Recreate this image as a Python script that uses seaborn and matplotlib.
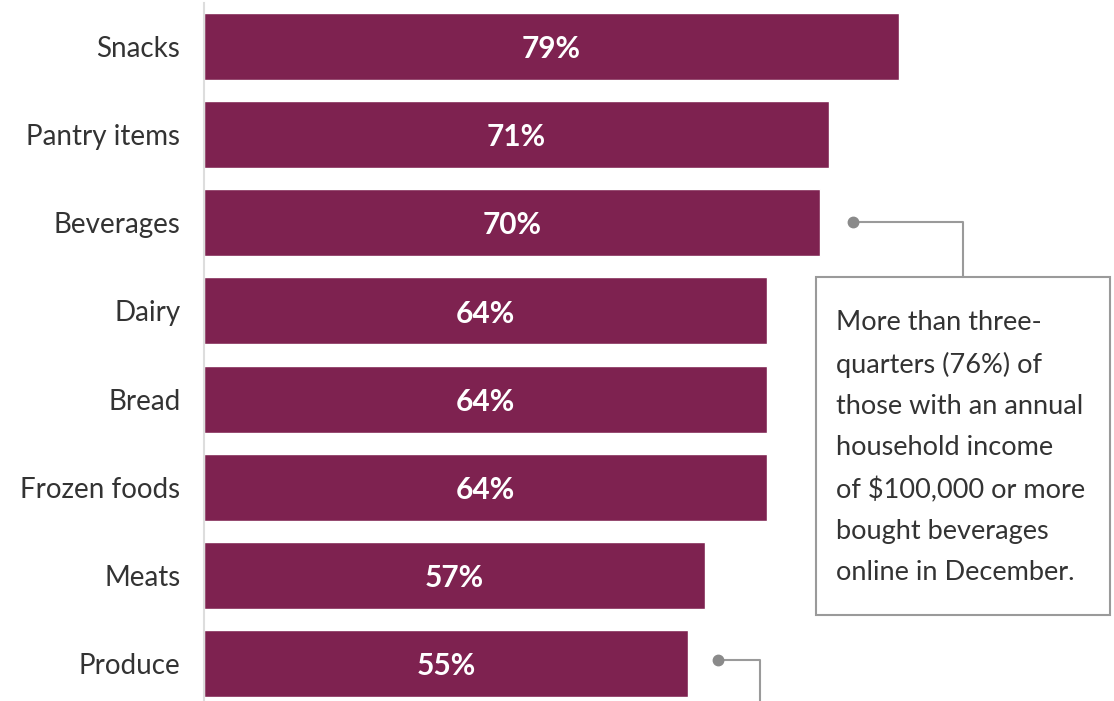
import matplotlib
matplotlib.use("Agg")
import matplotlib.pyplot as plt
import seaborn as sns
import pandas as pd

categories = ["Snacks", "Pantry items", "Beverages", "Dairy", "Bread",
              "Frozen foods", "Meats", "Produce"]
shares = [79, 71, 70, 64, 64, 64, 57, 55]
note_text = ("More than three-\nquarters (76%) of\nthose with an annual\n"
             "household income\nof $100,000 or more\nbought beverages\n"
             "online in December.")

BAR = "#7E2250"
GREY_LINE = "#8a8a8a"
TEXT = "#333333"

sns.set_theme(style="white")
plt.rcParams["font.family"] = ["Lato", "DejaVu Sans"]

df = pd.DataFrame({"category": categories, "share": shares})

W, H = 1114, 701
fig = plt.figure(figsize=(W / 100, H / 100), dpi=100)
# axes spans from the value axis line to the right edge
ax = fig.add_axes([204 / W, 0, 1 - 204 / W, 1 - 3 / H])

sns.barplot(data=df, x="share", y="category", color=BAR, saturation=1,
            width=0.76, ax=ax, orient="h")

pitch = 88.14
ax.set_ylim(7 + (H - 663.5) / pitch, (3 - 46.5) / pitch)
ax.set_xlim(0, (W - 204) / 8.797)

for i, v in enumerate(shares):
    ax.text(v / 2, i + 0.03, f"{v}%", ha="center", va="center", color="white",
            fontsize=21.5, fontweight="bold")

ax.set_xlabel("")
ax.set_ylabel("")
ax.set_xticks([])
ax.tick_params(axis="y", length=0, pad=17, labelsize=20, labelcolor=TEXT)
for s in ["top", "right", "bottom"]:
    ax.spines[s].set_visible(False)
ax.spines["left"].set_color("#dddddd")
ax.spines["left"].set_linewidth(1.5)

# callout box and connectors, in pixel coordinates of the figure
def px(x, y):
    return x / W, 1 - y / H

box = plt.Rectangle(px(816, 615), (1110 - 816) / W, (615 - 277) / H,
                    transform=fig.transFigure, facecolor="white",
                    edgecolor="#9a9a9a", linewidth=1.5)
fig.add_artist(box)
fig.text(*px(836, 310), note_text, ha="left", va="top", fontsize=19.5,
         color=TEXT, linespacing=1.80)

def connector(points):
    xs = [p[0] / W for p in points]
    ys = [1 - p[1] / H for p in points]
    fig.add_artist(plt.Line2D(xs, ys, transform=fig.transFigure,
                              color="#9a9a9a", linewidth=1.5))
    fig.add_artist(plt.Line2D([xs[0]], [ys[0]], transform=fig.transFigure,
                              marker="o", markersize=7.5, color=GREY_LINE,
                              linestyle="none"))

connector([(853, 222), (963, 222), (963, 277)])
connector([(718, 660), (760, 660), (760, 705)])

fig.savefig("out.png", dpi=100)
